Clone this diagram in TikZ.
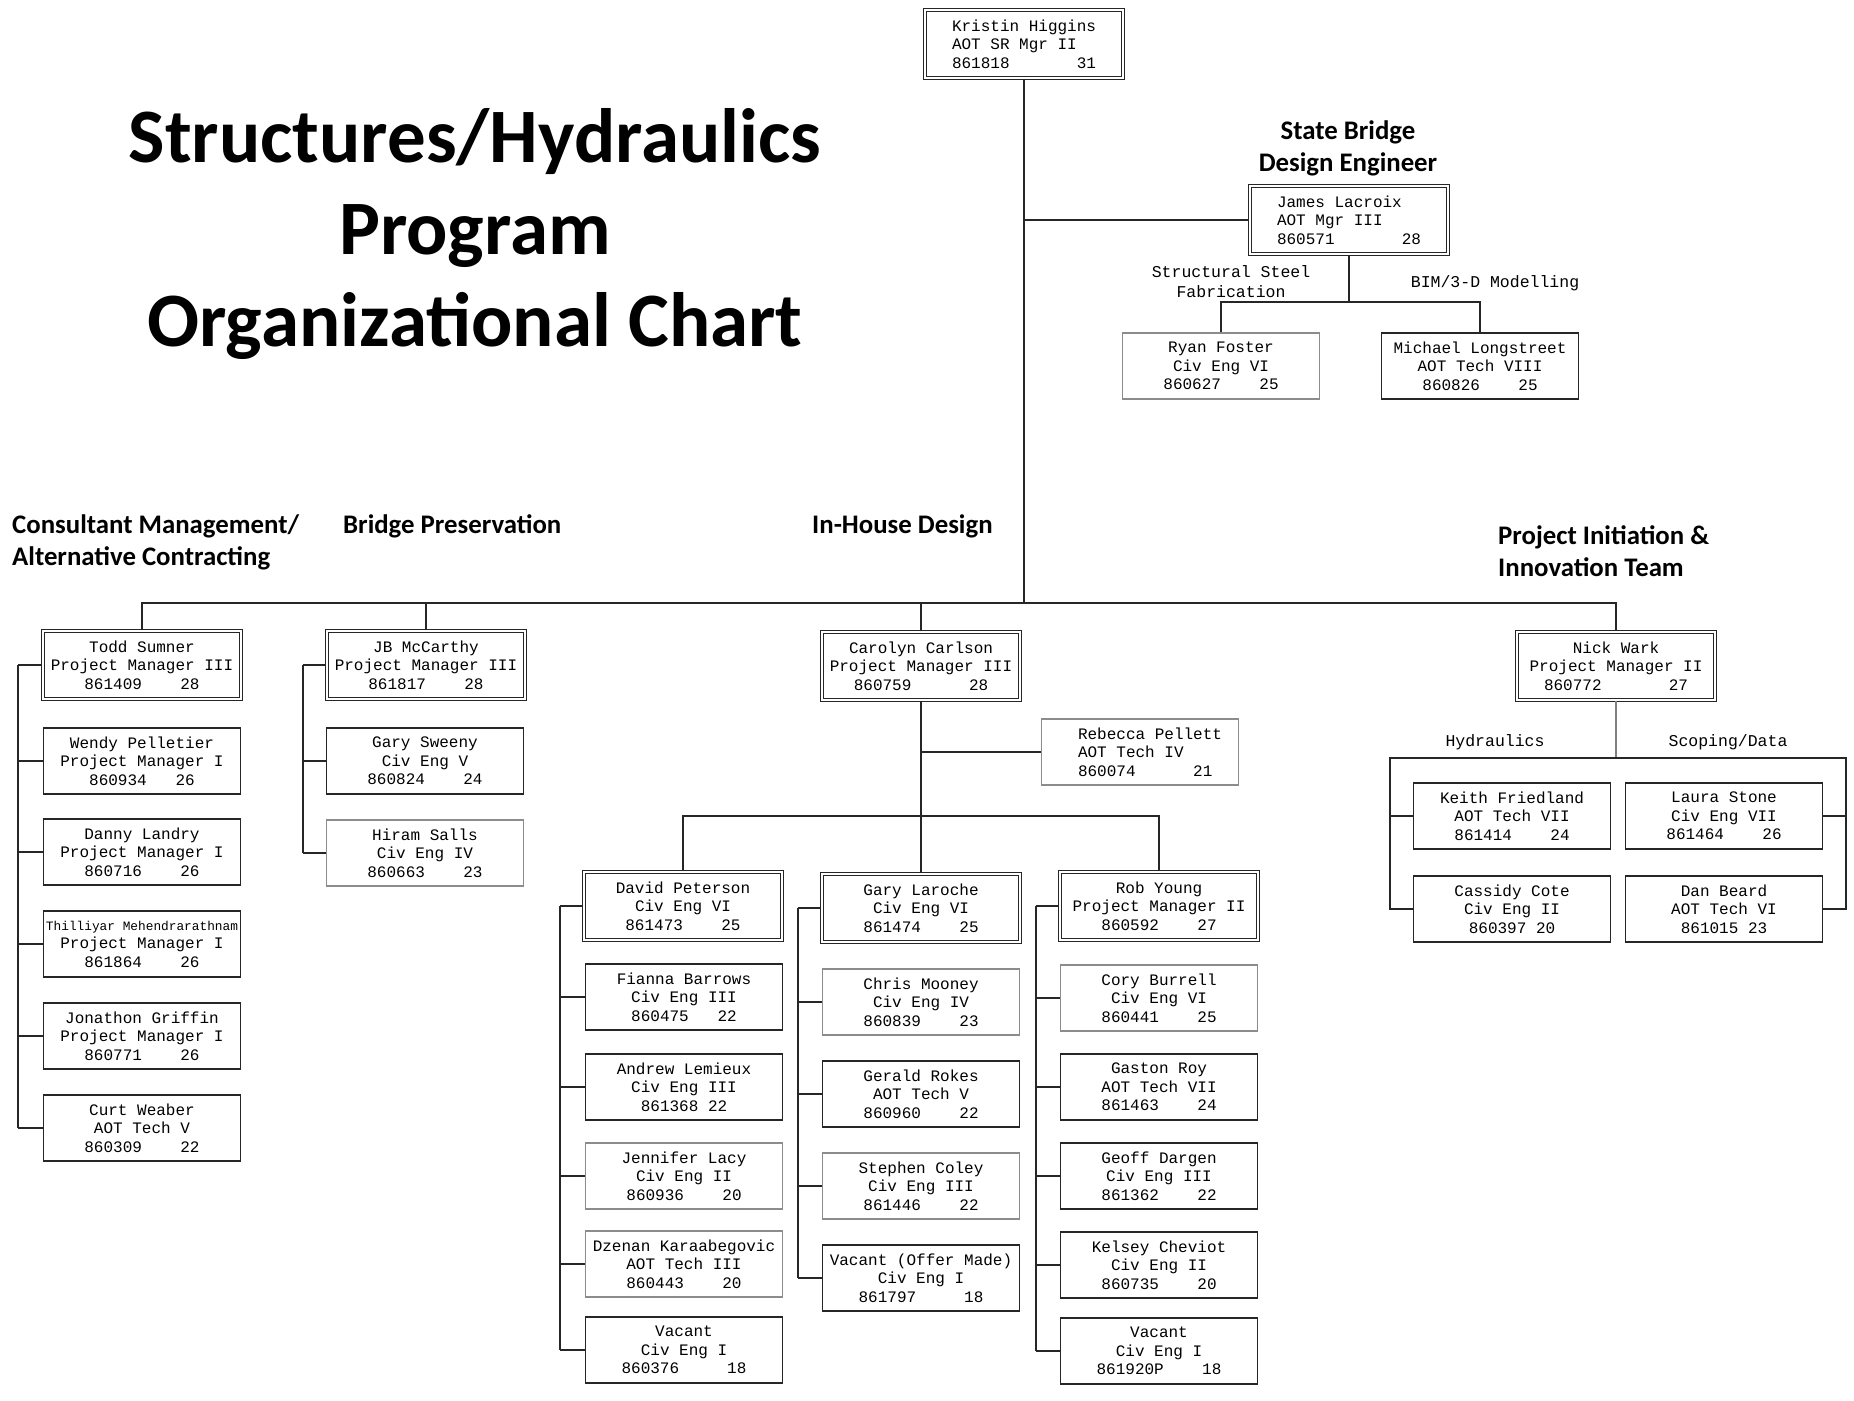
\documentclass[tikz,border=0pt]{standalone}
\usepackage{fontspec}
\setmainfont{Carlito}
\newfontfamily\plotfont{Liberation Mono}
\tikzset{
    staff-box/.style = {draw=black!85, line width=1.6pt, fill=white, rectangle, minimum width=197pt, minimum height=66pt, inner sep=2pt, align=center, font=\plotfont\fontsize{16}{18.5}\selectfont},
    staff-box-light/.style = {staff-box, draw=black!45},
    lead-box/.style = {staff-box, double=white, double distance=2.2pt, line width=1.1pt, minimum width=198pt, minimum height=68pt},
    chart-title/.style = {font=\bfseries\fontsize{77}{92}\selectfont, align=center},
    group-title/.style = {font=\bfseries\fontsize{26.8}{32}\selectfont, align=left, anchor=west, inner sep=0pt},
    branch-label/.style = {font=\plotfont\fontsize{16.5}{20}\selectfont, align=center, inner sep=0pt},
    link/.style = {draw=black!85, line width=1.6pt},
}

\begin{document}
\begin{tikzpicture}[x=1pt, y=-1pt]
\useasboundingbox (0,0) rectangle (1854,1400);

\node[chart-title] (title) at (475,234) {Structures/Hydraulics\\Program\\Organizational Chart};

% program manager and state bridge engineer
\node[lead-box, align=left] (kh) at (1024,44) {Kristin Higgins\\AOT SR Mgr II\\861818~~~~~~~31};
\node[group-title, anchor=center, align=center] (sbde) at (1348,148) {State Bridge\\Design Engineer};
\node[lead-box, align=left] (jl) at (1349,220) {James Lacroix\\AOT Mgr III\\860571~~~~~~~28};
\node[branch-label] (ssf) at (1231,282) {Structural Steel\\Fabrication};
\node[branch-label] (bim) at (1495,283) {BIM/3-D Modelling};
\node[staff-box-light] (rf) at (1221,366) {Ryan Foster\\Civ Eng VI\\860627~~~~25};
\node[staff-box] (ml) at (1480,366) {Michael Longstreet\\AOT Tech VIII\\860826~~~~25};

\coordinate (bus) at (1024,603);
\coordinate (sb-bus) at (1349,302);
\draw[link] (kh.south) -- (bus);
\draw[link] (kh.south |- jl.west) -- (jl.west);
\draw[link] (jl.south) -- (sb-bus);
\draw[link] (rf.north) |- (sb-bus) -| (ml.north);

% section headings
\node[group-title] (cm-title) at (12,542) {Consultant Management/\\Alternative Contracting};
\node[group-title] (bp-title) at (343,526) {Bridge Preservation};
\node[group-title] (ih-title) at (812,526) {In-House Design};
\node[group-title] (pi-title) at (1498,551) {Project Initiation \&\\Innovation Team};

% section leads
\node[lead-box] (todd) at (142,665) {Todd Sumner\\Project Manager III\\861409~~~~28};
\node[lead-box] (jb) at (426,665) {JB McCarthy\\Project Manager III\\861817~~~~28};
\node[lead-box] (cc) at (921,666) {Carolyn Carlson\\Project Manager III\\860759~~~~~~28};
\node[lead-box] (nw) at (1616,666) {Nick Wark\\Project Manager II\\860772~~~~~~~27};

\draw[link] (todd.north) |- (bus) -| (nw.north);
\draw[link] (jb.north) -- (jb.north |- bus);
\draw[link] (cc.north) -- (cc.north |- bus);

% consultant management
\node[staff-box] (wp) at (142,761) {Wendy Pelletier\\Project Manager I\\860934~~~26};
\node[staff-box] (dl) at (142,852) {Danny Landry\\Project Manager I\\860716~~~~26};
\node[staff-box] (tm) at (142,944) {{\fontsize{12.8}{18.5}\selectfont Thilliyar Mehendrarathnam}\\Project Manager I\\861864~~~~26};
\node[staff-box] (jg) at (142,1036) {Jonathon Griffin\\Project Manager I\\860771~~~~26};
\node[staff-box] (cw) at (142,1128) {Curt Weaber\\AOT Tech V\\860309~~~~22};
\coordinate (cm-spine) at (18,0);
\foreach \n in {todd,wp,dl,tm,jg,cw}
    \draw[link] (\n.west) -- (\n.west -| cm-spine);
\draw[link] (todd.west -| cm-spine) -- (cw.west -| cm-spine);

% bridge preservation
\node[staff-box] (gs) at (425,761) {Gary Sweeny\\Civ Eng V\\860824~~~~24};
\node[staff-box-light] (hs) at (425,853) {Hiram Salls\\Civ Eng IV\\860663~~~~23};
\coordinate (bp-spine) at (303,0);
\foreach \n in {jb,gs,hs}
    \draw[link] (\n.west) -- (\n.west -| bp-spine);
\draw[link] (jb.west -| bp-spine) -- (hs.west -| bp-spine);

% in-house design
\node[staff-box-light, align=left] (rp) at (1140,752) {\hspace*{20pt}Rebecca Pellett\\\hspace*{20pt}AOT Tech IV\\\hspace*{20pt}860074~~~~~~21};
\node[lead-box] (dp) at (683,906) {David Peterson\\Civ Eng VI\\861473~~~~25};
\node[lead-box] (gl) at (921,908) {Gary Laroche\\Civ Eng VI\\861474~~~~25};
\node[lead-box] (ry) at (1159,906) {Rob Young\\Project Manager II\\860592~~~~27};

\coordinate (ih-bus) at (921,816);
\draw[link] (cc.south) -- (ih-bus);
\draw[link] (rp.west) -- (rp.west -| cc.south);
\draw[link] (dp.north) |- (ih-bus) -| (ry.north);
\draw[link] (gl.north) -- (gl.north |- ih-bus);

\node[staff-box] (fb) at (684,997) {Fianna Barrows\\Civ Eng III\\860475~~~22};
\node[staff-box] (am) at (684,1087) {Andrew Lemieux\\Civ Eng III\\861368 22};
\node[staff-box-light] (jly) at (684,1176) {Jennifer Lacy\\Civ Eng II\\860936~~~~20};
\node[staff-box-light] (dk) at (684,1264) {Dzenan Karaabegovic\\AOT Tech III\\860443~~~~20};
\node[staff-box] (va1) at (684,1350) {Vacant\\Civ Eng I\\860376~~~~~18};
\coordinate (dp-spine) at (560,0);
\foreach \n in {dp,fb,am,jly,dk,va1}
    \draw[link] (\n.west) -- (\n.west -| dp-spine);
\draw[link] (dp.west -| dp-spine) -- (va1.west -| dp-spine);

\node[staff-box-light] (chm) at (921,1002) {Chris Mooney\\Civ Eng IV\\860839~~~~23};
\node[staff-box] (gr) at (921,1094) {Gerald Rokes\\AOT Tech V\\860960~~~~22};
\node[staff-box-light] (sc) at (921,1186) {Stephen Coley\\Civ Eng III\\861446~~~~22};
\node[staff-box] (va2) at (921,1278) {Vacant (Offer Made)\\Civ Eng I\\861797~~~~~18};
\coordinate (gl-spine) at (798,0);
\foreach \n in {gl,chm,gr,sc,va2}
    \draw[link] (\n.west) -- (\n.west -| gl-spine);
\draw[link] (gl.west -| gl-spine) -- (va2.west -| gl-spine);

\node[staff-box-light] (cb) at (1159,998) {Cory Burrell\\Civ Eng VI\\860441~~~~25};
\node[staff-box] (gry) at (1159,1087) {Gaston Roy\\AOT Tech VII\\861463~~~~24};
\node[staff-box] (gd) at (1159,1176) {Geoff Dargen\\Civ Eng III\\861362~~~~22};
\node[staff-box] (kc) at (1159,1265) {Kelsey Cheviot\\Civ Eng II\\860735~~~~20};
\node[staff-box] (va3) at (1159,1351) {Vacant\\Civ Eng I\\861920P~~~~18};
\coordinate (ry-spine) at (1036,0);
\foreach \n in {ry,cb,gry,gd,kc,va3}
    \draw[link] (\n.west) -- (\n.west -| ry-spine);
\draw[link] (ry.west -| ry-spine) -- (va3.west -| ry-spine);

% project initiation
\node[staff-box] (kf) at (1512,816) {Keith Friedland\\AOT Tech VII\\861414~~~~24};
\node[staff-box] (cco) at (1512,909) {Cassidy Cote\\Civ Eng II\\860397 20};
\node[staff-box] (ls) at (1724,816) {Laura Stone\\Civ Eng VII\\861464~~~~26};
\node[staff-box] (db) at (1724,909) {Dan Beard\\AOT Tech VI\\861015 23};
\node[branch-label] (hyd) at (1495,742) {Hydraulics};
\node[branch-label] (scd) at (1728,742) {Scoping/Data};

\coordinate (pi-bus) at (1616,758);
\coordinate (pi-left) at (1390,758);
\coordinate (pi-right) at (1846,758);
\draw[link, draw=black!50] (nw.south) -- (pi-bus);
\draw[link] (cco.west) -| (pi-left) -- (pi-right) |- (db.east);
\draw[link] (kf.west) -- (kf.west -| pi-left);
\draw[link] (ls.east) -- (ls.east -| pi-right);
\end{tikzpicture}
\end{document}
